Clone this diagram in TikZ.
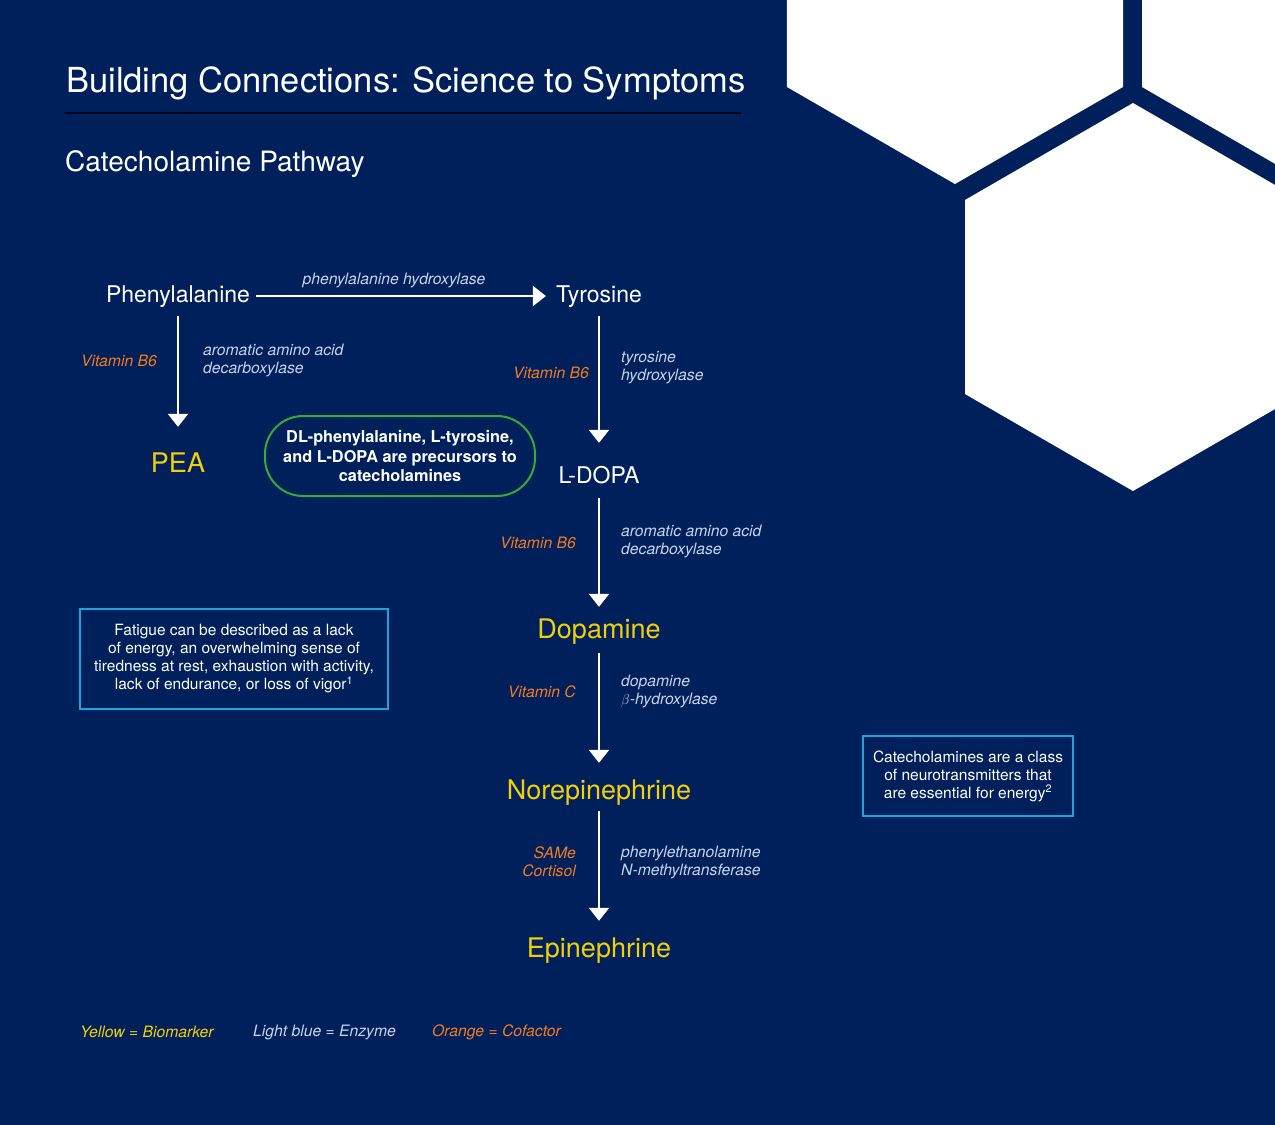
\documentclass[tikz,border=0pt]{standalone}
\usepackage{fontspec}
\setmainfont{TeX Gyre Heros}
\usepackage{tikz}
\usetikzlibrary{arrows.meta,positioning}
\usepackage{xcolor}
\definecolor{navy}{HTML}{00205B}
\definecolor{bioyellow}{HTML}{F2CF0A}
\definecolor{coforange}{HTML}{F47B20}
\definecolor{enzblue}{HTML}{C9D4EC}
\definecolor{boxblue}{HTML}{1EA3DD}
\definecolor{boxgreen}{HTML}{3AA935}
\tikzset{
  chem/.style={text=white, font=\fontsize{23}{26}\selectfont, minimum height=46pt, text height=17pt, text depth=5pt, inner sep=0pt},
  marker/.style={chem, text=bioyellow, font=\fontsize{27}{30}\selectfont, text height=20pt, text depth=6pt},
  enz/.style={text=enzblue, font=\fontsize{15.7}{18}\selectfont\itshape, align=left, anchor=west, inner sep=0pt},
  cof/.style={text=coforange, font=\fontsize{15.7}{18}\selectfont\itshape, align=right, anchor=east, inner sep=0pt},
  flow/.style={draw=white, line width=2.2pt, -{Triangle[width=20pt,length=13pt]}},
  note/.style={draw=boxblue, line width=2pt, text=white, align=center, font=\fontsize{15.5}{18}\selectfont, inner sep=0pt},
}
\begin{document}
\begin{tikzpicture}[x=1pt, y=-1pt]
                    \useasboundingbox (0,0) rectangle (1275,1125);
                    \fill[navy] (0,0) rectangle (1275,1125);
                    % hexagons
                    \begin{scope}
                    \clip (0,0) rectangle (1275,1125);
                    \foreach \cx/\cy in {955/-10, 1310/-10, 1133/297}
                      \fill[white] (\cx,\cy) ++(0,194) -- ++(210:194) -- ++(270:194) -- ++(330:194) -- ++(30:194) -- ++(90:194) -- cycle;
                    \end{scope}
                    % headings
                    \node[anchor=base west, inner sep=0pt, text=white, font=\fontsize{34.5}{38}\selectfont] (Title) at (66,92) {Building Connections: Science to Symptoms};
                    \draw[black!75!navy, line width=1.5pt] (65,113) -- (741,113);
                    \node[anchor=base west, inner sep=0pt, text=white, font=\fontsize{28}{30}\selectfont] (Sub) at (65,171) {Catecholamine Pathway};
                    % pathway
                    \node[chem] (Phe) at (178,296) {Phenylalanine};
                    \node[chem] (Tyr) at (599,296) {Tyrosine};
                    \node[marker] (PEA) at (178,465) {PEA};
                    \node[chem] (LDOPA) at (599,477) {L-DOPA};
                    \node[marker] (Dopa) at (599,631) {Dopamine};
                    \node[marker] (Norepi) at (599,792) {Norepinephrine};
                    \node[marker] (Epi) at (599,950) {Epinephrine};
                    \draw[flow, shorten <=6pt, shorten >=10pt] (Phe) -- (Tyr);
                    \node[enz, anchor=center] (PAH) at (394,280) {phenylalanine hydroxylase};
                    \draw[flow, shorten <=-3pt, shorten >=15pt] (Phe) -- (PEA);
                    \node[cof] (B6a) at (157,361) {Vitamin B6};
                    \node[enz] (AADCa) at (203,360) {aromatic amino acid\\decarboxylase};
                    \draw[flow, shorten <=-3pt, shorten >=11pt] (Tyr) -- (LDOPA);
                    \node[cof] (B6b) at (589,373) {Vitamin B6};
                    \node[enz] (TH) at (621,368) {tyrosine\\hydroxylase};
                    \draw[flow, shorten <=-2pt, shorten >=1pt] (LDOPA) -- (Dopa);
                    \node[cof] (B6c) at (576,543) {Vitamin B6};
                    \node[enz] (AADCb) at (621,541) {aromatic amino acid\\decarboxylase};
                    \draw[flow, shorten <=-1pt, shorten >=6pt] (Dopa) -- (Norepi);
                    \node[cof] (VitC) at (576,692) {Vitamin C};
                    \node[enz] (DBH) at (621,691) {dopamine\\$\beta$-hydroxylase};
                    \draw[flow, shorten <=-4pt, shorten >=6pt] (Norepi) -- (Epi);
                    \node[cof] (SAMe) at (576,862) {SAMe\\Cortisol};
                    \node[enz] (PNMT) at (621,862) {phenylethanolamine\\N-methyltransferase};
                    % notes
                    \node[draw=boxgreen, line width=2pt, rounded corners=38pt, minimum width=270pt, minimum height=80pt, text=white, align=center, inner sep=0pt, font=\fontsize{16.3}{19.5}\selectfont\bfseries] (Precursor) at (400,456) {DL-phenylalanine, L-tyrosine,\\and L-DOPA are precursors to\\catecholamines};
                    \node[note, minimum width=308pt, minimum height=100pt] (Fatigue) at (234,659) {Fatigue can be described as a lack\\of energy, an overwhelming sense of\\tiredness at rest, exhaustion with activity,\\lack of endurance, or loss of vigor\textsuperscript{1}};
                    \node[note, minimum width=210pt, minimum height=80pt] (Catbox) at (968,776) {Catecholamines are a class\\of neurotransmitters that\\are essential for energy\textsuperscript{2}};
                    % legend
                    \node[enz, text=bioyellow] (LegY) at (80,1032) {Yellow = Biomarker};
                    \node[enz] (LegB) at (253,1032) {Light blue = Enzyme};
                    \node[enz, text=coforange] (LegO) at (432,1032) {Orange = Cofactor};
                \end{tikzpicture}
\end{document}
